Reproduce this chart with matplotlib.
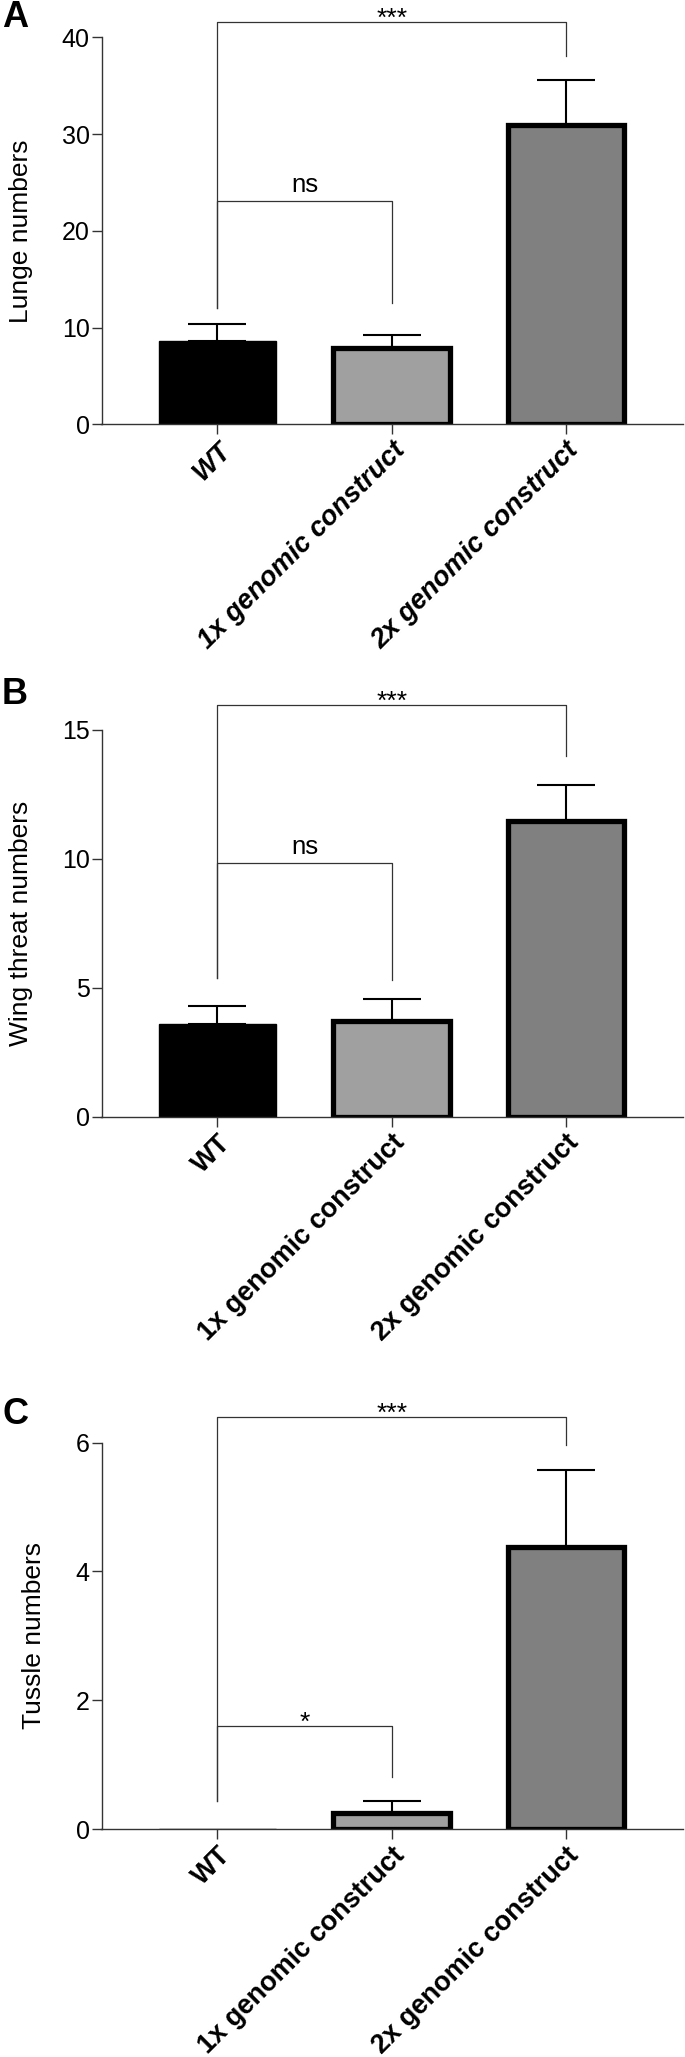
import matplotlib
matplotlib.use("Agg")
import matplotlib.pyplot as plt
import numpy as np

plt.rcParams['font.family'] = ['Liberation Sans', 'DejaVu Sans']

categories = ["WT", "1x genomic construct", "2x genomic construct"]
bar_colors = ["#000000", "#a0a0a0", "#808080"]

# Panel A: Lunge numbers
lunge_mean = [8.6, 7.9, 30.9]
lunge_sem = [1.75, 1.3, 4.7]
# Panel B: Wing threat numbers
wing_mean = [3.59, 3.71, 11.46]
wing_sem = [0.69, 0.87, 1.42]
# Panel C: Tussle numbers
tussle_mean = [0.0, 0.26, 4.38]
tussle_sem = [0.0, 0.175, 1.19]

# significance brackets: (x1, x2, y, left-leg bottom, right-leg bottom, label)
sig_A = [(0, 2, 41.6, 12.06, 38.1, "***"), (0, 1, 23.1, 12.06, 12.5, "ns")]
sig_B = [(0, 2, 15.98, 5.39, 13.99, "***"), (0, 1, 9.83, 5.39, 5.32, "ns")]
sig_C = [(0, 2, 6.40, 0.435, 5.96, "***"), (0, 1, 1.61, 0.435, 0.816, "*")]

W, H = 685, 2057
fig = plt.figure(figsize=(W / 100, H / 100), dpi=100)

panels = [
    dict(letter="A", mean=lunge_mean, sem=lunge_sem, sig=sig_A, ylabel="Lunge numbers",
         yticks=[0, 10, 20, 30, 40], top=37.4, zero=424.3, italic=True, lab_right=33, letter_top=0),
    dict(letter="B", mean=wing_mean, sem=wing_sem, sig=sig_B, ylabel="Wing threat numbers",
         yticks=[0, 5, 10, 15], top=729.9, zero=1116.8, italic=False, lab_right=33, letter_top=677),
    dict(letter="C", mean=tussle_mean, sem=tussle_sem, sig=sig_C, ylabel="Tussle numbers",
         yticks=[0, 2, 4, 6], top=1442.5, zero=1829.3, italic=False, lab_right=46, letter_top=1397),
]

left_px, right_px = 101.5, 683
line_col = "#333333"

for p in panels:
    ax = fig.add_axes([left_px / W, 1 - p["zero"] / H, (right_px - left_px) / W,
                       (p["zero"] - p["top"]) / H])
    x = np.arange(len(categories))
    mean = np.array(p["mean"])
    sem = np.array(p["sem"])
    ax.bar(x, mean, width=0.67, color=bar_colors, edgecolor="black",
           linewidth=[1.0, 3.8, 3.8], zorder=2)
    m = sem > 0
    ax.errorbar(x[m], mean[m], yerr=[np.zeros(m.sum()), sem[m]], fmt="none",
                ecolor="black", elinewidth=1.5, capsize=21, capthick=1.5, zorder=1)
    ax.set_xlim(-0.665, 2.672)
    ax.set_ylim(p["yticks"][0], p["yticks"][-1])
    ax.set_yticks(p["yticks"])
    ax.set_xticks(x)
    ax.set_xticklabels(categories, rotation=45, ha="right", va="top",
                       rotation_mode="anchor", fontsize=19.5, fontweight="bold",
                       fontstyle="italic" if p["italic"] else "normal")
    for s in ["top", "right"]:
        ax.spines[s].set_visible(False)
    for s in ["left", "bottom"]:
        ax.spines[s].set_color(line_col)
        ax.spines[s].set_linewidth(1.0)
    ax.tick_params(axis="y", length=7.5, width=1, color=line_col, labelsize=18, pad=1)
    ax.tick_params(axis="x", length=7.5, width=1, color=line_col, pad=2)
    ax.set_ylabel(p["ylabel"], fontsize=19)
    ax.yaxis.set_label_coords((p["lab_right"] - left_px) / (right_px - left_px), 0.5)
    for (x1, x2, y, yl, yr, lab) in p["sig"]:
        ax.plot([x1, x1, x2, x2], [yl, y, y, yr], color=line_col, lw=0.9,
                clip_on=False, zorder=3)
        if lab == "ns":
            ax.annotate(lab, xy=((x1 + x2) / 2, y), xytext=(0, 6.5), textcoords="offset points",
                        ha="center", va="baseline", fontsize=18.5, annotation_clip=False)
        else:
            ax.annotate(lab, xy=((x1 + x2) / 2, y), xytext=(0, -3), textcoords="offset points",
                        ha="center", va="baseline", fontsize=19, annotation_clip=False)
    fig.text(2 / W, 1 - p["letter_top"] / H, p["letter"], fontsize=26, fontweight="bold",
             ha="left", va="top")

fig.savefig("out.png", dpi=100)
